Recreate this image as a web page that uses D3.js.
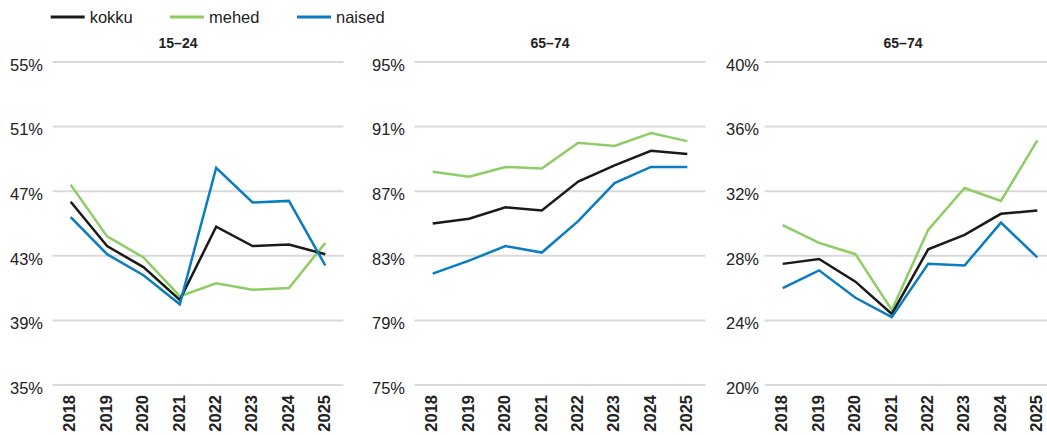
<html>
<head>
  <script src="https://cdn.jsdelivr.net/npm/d3@7/dist/d3.min.js"></script>
</head>
<style>
  body { margin: 0; background: #fff; }
  text { font-family: "Liberation Sans", Arial, sans-serif; fill: #222; }
</style>
<body>
  <svg id="chart" width="1047" height="435"></svg>
  <script type="text/javascript">
    var years = ['2018', '2019', '2020', '2021', '2022', '2023', '2024', '2025'];
    var seriesNames = ['kokku', 'mehed', 'naised'];
    var colors = ['#1a1a1a', '#8dcd63', '#0a7cc0'];
    var titles = ['15–24', '65–74', '65–74'];

    // panel 1: 15-24
    var kokku1 = [46.35, 43.6, 42.3, 40.27, 44.8, 43.6, 43.7, 43.1];
    var mehed1 = [47.4, 44.2, 42.9, 40.5, 41.3, 40.9, 41.0, 43.8];
    var naised1 = [45.4, 43.1, 41.8, 40.0, 48.45, 46.3, 46.4, 42.4];
    var ticks1 = [35, 39, 43, 47, 51, 55];

    // panel 2: 65-74
    var kokku2 = [85.0, 85.3, 86.0, 85.8, 87.6, 88.6, 89.5, 89.3];
    var mehed2 = [88.2, 87.9, 88.5, 88.4, 90.0, 89.8, 90.6, 90.1];
    var naised2 = [81.9, 82.7, 83.6, 83.2, 85.15, 87.5, 88.5, 88.5];
    var ticks2 = [75, 79, 83, 87, 91, 95];

    // panel 3: 65-74
    var kokku3 = [27.5, 27.8, 26.4, 24.4, 28.4, 29.3, 30.6, 30.8];
    var mehed3 = [29.9, 28.8, 28.1, 24.65, 29.6, 32.2, 31.4, 35.15];
    var naised3 = [26.0, 27.1, 25.4, 24.2, 27.5, 27.4, 30.05, 27.9];
    var ticks3 = [20, 24, 28, 32, 36, 40];

    var panels = [
      { series: [kokku1, mehed1, naised1], ticks: ticks1, x0: 52.5, labelX: 43, titleX: 178 },
      { series: [kokku2, mehed2, naised2], ticks: ticks2, x0: 414.5, labelX: 405, titleX: 550 },
      { series: [kokku3, mehed3, naised3], ticks: ticks3, x0: 764.5, labelX: 759, titleX: 903 }
    ];
    var bandW = 291;
    var plotTop = 62, plotBottom = 385;

    var svg = d3.select('#chart');

    panels.forEach(function(p, pi) {
      var x = d3.scaleBand()
        .domain(years)
        .range([p.x0, p.x0 + bandW]);
      var y = d3.scaleLinear()
        .domain([p.ticks[0], p.ticks[p.ticks.length - 1]])
        .range([plotBottom, plotTop]);
      var g = svg.append('g');

      // gridlines
      g.selectAll('line.grid')
        .data(p.ticks)
        .enter()
        .append('line')
        .attr('x1', p.x0)
        .attr('x2', p.x0 + bandW)
        .attr('y1', function(d) { return y(d); })
        .attr('y2', function(d) { return y(d); })
        .attr('stroke', '#d9d9d9')
        .attr('stroke-width', 2);

      // y labels
      g.selectAll('text.ylab')
        .data(p.ticks)
        .enter()
        .append('text')
        .attr('x', p.labelX)
        .attr('y', function(d) { return y(d) + 3; })
        .attr('dy', '0.35em')
        .attr('text-anchor', 'end')
        .attr('font-size', 16.5)
        .text(function(d) { return d + '%'; });

      // x labels
      g.selectAll('text.xlab')
        .data(years)
        .enter()
        .append('text')
        .attr('transform', function(d) {
          return 'translate(' + (x(d) + x.bandwidth() / 2 - 1) + ',395) rotate(-90)';
        })
        .attr('dy', '0.35em')
        .attr('text-anchor', 'end')
        .attr('font-size', 16.5)
        .attr('font-weight', 'bold')
        .text(function(d) { return d; });

      // title
      g.append('text')
        .attr('x', p.titleX)
        .attr('y', 48)
        .attr('text-anchor', 'middle')
        .attr('font-size', 14)
        .attr('font-weight', 'bold')
        .text(titles[pi]);

      var line = d3.line()
        .x(function(d, i) { return x(years[i]) + x.bandwidth() / 2; })
        .y(function(d) { return y(d); });

      [1, 0, 2].forEach(function(si) {
        g.append('path')
          .attr('d', line(p.series[si]))
          .attr('fill', 'none')
          .attr('stroke', colors[si])
          .attr('stroke-width', 2.5);
      });
    });

    // legend
    var legendX = [50.7, 170, 297];
    var legend = svg.append('g');
    seriesNames.forEach(function(name, i) {
      legend.append('line')
        .attr('x1', legendX[i])
        .attr('x2', legendX[i] + 34)
        .attr('y1', 17)
        .attr('y2', 17)
        .attr('stroke', colors[i])
        .attr('stroke-width', 3);
      legend.append('text')
        .attr('x', legendX[i] + 39)
        .attr('y', 23)
        .attr('font-size', 16.5)
        .text(name);
    });
  </script>
</body>
</html>
